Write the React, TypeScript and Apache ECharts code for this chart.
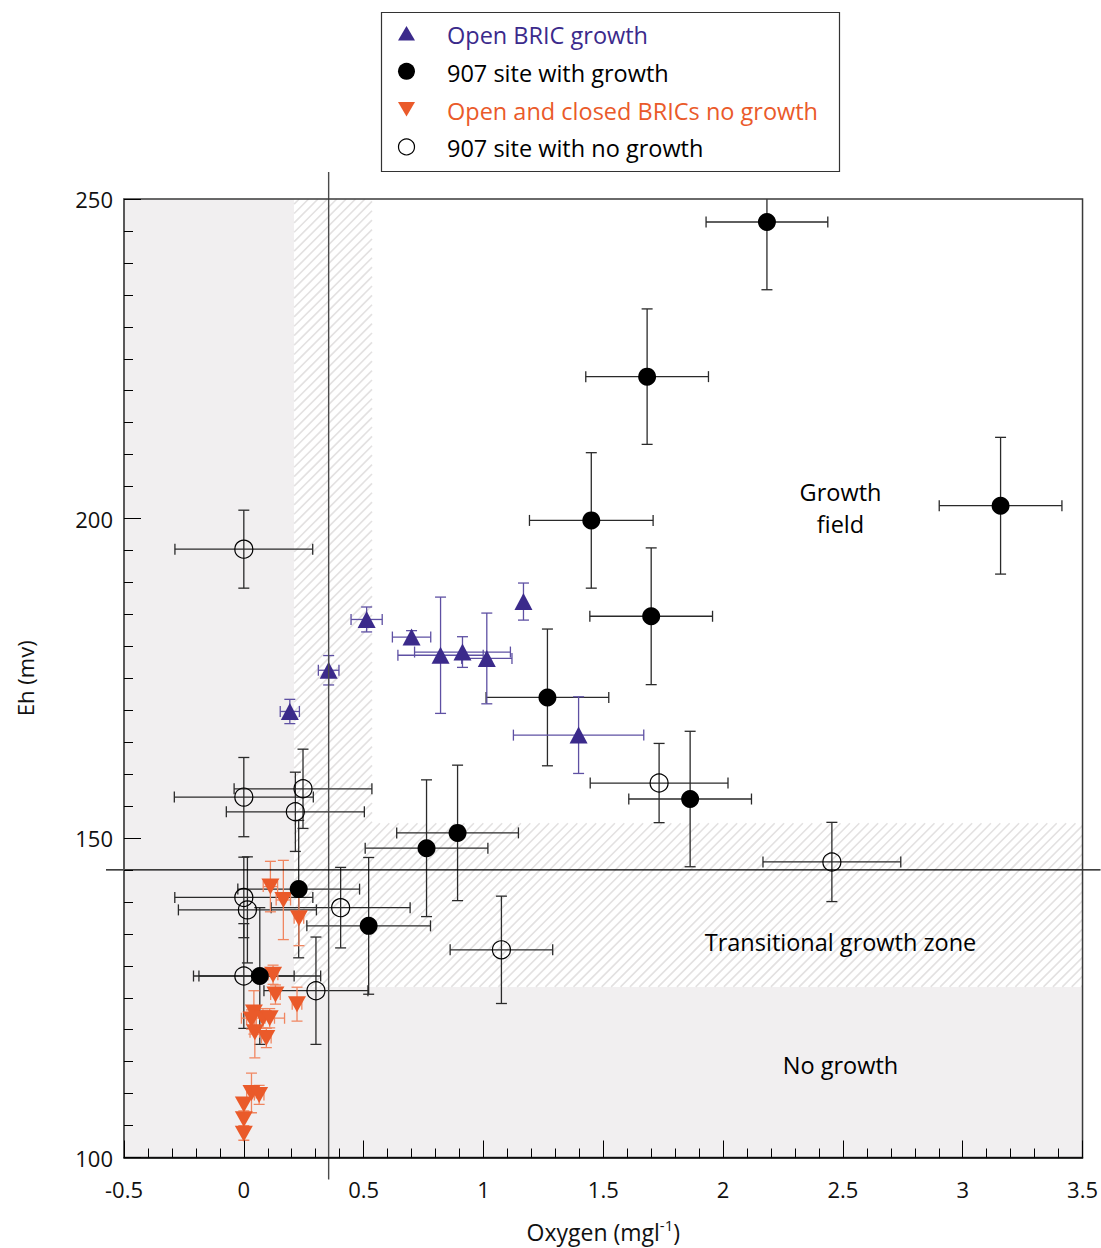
import React, { useEffect, useRef } from 'react';
import * as echarts from 'echarts';

// ---------------- data ----------------
const xMin = -0.5;
const xMax = 3.5;
const xInterval = 0.5;
const yMin = 100;
const yMax = 250;
const yInterval = 50;

// [oxygen, Eh, oxygen error, Eh error]
const openBricGrowth = [
  [0.192, 169.8, 0.04, 1.9],
  [0.354, 176.25, 0.043, 2.3],
  [0.5125, 184.2, 0.065, 1.95],
  [0.7, 181.45, 0.08, 1.0],
  [0.821, 178.6, 0.178, 9.1],
  [0.9125, 179.1, 0.2, 2.4],
  [1.014, 178.1, 0.105, 7.1],
  [1.167, 187.0, 0, 2.9],
  [1.397, 166.1, 0.272, 6.0],
];

const site907Growth = [
  [2.183, 246.4, 0.254, 10.6],
  [1.683, 222.2, 0.256, 10.6],
  [1.45, 199.7, 0.258, 10.6],
  [3.158, 202.0, 0.256, 10.7],
  [1.7, 184.7, 0.256, 10.7],
  [1.267, 172.0, 0.256, 10.7],
  [1.8625, 156.1, 0.256, 10.6],
  [0.892, 150.8, 0.254, 10.6],
  [0.7625, 148.4, 0.256, 10.7],
  [0.521, 136.25, 0.258, 10.7],
  [0.229, 142.0, 0.254, 10.75],
  [0.0667, 128.4, 0.254, 10.7],
];

const bricNoGrowth = [
  [0.111, 142.4, 0.03, 3.95],
  [0.165, 140.3, 0.03, 6.2],
  [0.23, 137.45, 0.02, 4.3],
  [0.122, 128.6, 0.02, 1.5],
  [0.132, 125.5, 0.02, 1.5],
  [0.222, 124.0, 0.02, 2.65],
  [0.042, 122.7, 0.02, 3.4],
  [0.08, 121.8, 0.09, 1.5],
  [0.108, 121.8, 0.02, 1.5],
  [0.032, 121.6, 0.02, 1.5],
  [0.046, 119.6, 0.02, 4.0],
  [0.094, 118.7, 0.02, 1.5],
  [0.032, 110.1, 0.02, 3.1],
  [0.064, 109.8, 0.02, 1.5],
  [0.0, 108.3, 0, 1],
  [0.0, 106.0, 0, 1],
  [0.0, 103.7, 0, 1],
];

const site907NoGrowth = [
  [0.0, 195.2, 0.2875, 6.1],
  [0.0, 156.4, 0.29, 6.2],
  [0.247, 157.7, 0.2875, 6.2],
  [0.215, 154.1, 0.288, 6.2],
  [0.0, 140.7, 0.288, 6.3],
  [0.015, 138.75, 0.288, 8.3],
  [0.0, 128.4, 0.21, 8.2],
  [0.301, 126.1, 0.217, 8.4],
  [0.404, 139.1, 0.29, 6.3],
  [1.075, 132.5, 0.214, 8.4],
  [1.733, 158.6, 0.2875, 6.2],
  [2.454, 146.25, 0.2875, 6.2],
];

// zones: [x0, y0, x1, y1]
const noGrowthZones = [
  [-0.5, 100, 0.21, 250],
  [-0.5, 100, 3.5, 126.7],
];
const transitionalZones = [
  [0.21, 126.7, 0.535, 250],
  [0.535, 126.7, 3.5, 152.3],
];
const referenceLines = [[0.354, 145]];

const zoneLabels = ['Growth\nfield', 'Transitional growth zone', 'No growth'];
const zoneLabelX = [2.49, 2.49, 2.49];
const zoneLabelY = [201.6, 133.75, 114.5];

const legendLabels = [
  'Open BRIC growth',
  '907 site with growth',
  'Open and closed BRICs no growth',
  '907 site with no growth',
];

// ---------------- styles ----------------
const FONT = '"Open Sans", "Noto Sans", sans-serif';
const PURPLE = '#3b2a8b';
const PURPLE_BAR = '#5e50a3';
const ORANGE = '#ea5a2a';
const ORANGE_BAR = '#f08660';
const BLACK = '#000000';
const BLACK_BAR = '#2a2a2a';
const GRAY_FILL = '#f1eff0';
const HATCH = '#e3e1e1';

function errorBarRenderer(color: string, cap: number, lw: number) {
  return (params: any, api: any) => {
    const x = api.value(0);
    const y = api.value(1);
    const ex = api.value(2);
    const ey = api.value(3);
    const style = { stroke: color, lineWidth: lw, fill: null };
    const children: any[] = [];
    if (ex > 0) {
      const l = api.coord([x - ex, y]);
      const r = api.coord([x + ex, y]);
      children.push({ type: 'line', shape: { x1: l[0], y1: l[1], x2: r[0], y2: r[1] }, style });
      children.push({ type: 'line', shape: { x1: l[0], y1: l[1] - cap, x2: l[0], y2: l[1] + cap }, style });
      children.push({ type: 'line', shape: { x1: r[0], y1: r[1] - cap, x2: r[0], y2: r[1] + cap }, style });
    }
    if (ey > 0) {
      const t = api.coord([x, y + ey]);
      const b = api.coord([x, y - ey]);
      children.push({ type: 'line', shape: { x1: t[0], y1: t[1], x2: b[0], y2: b[1] }, style });
      children.push({ type: 'line', shape: { x1: t[0] - cap, y1: t[1], x2: t[0] + cap, y2: t[1] }, style });
      children.push({ type: 'line', shape: { x1: b[0] - cap, y1: b[1], x2: b[0] + cap, y2: b[1] }, style });
    }
    return { type: 'group', children };
  };
}

function fillRenderer(params: any, api: any) {
  const a = api.coord([api.value(0), api.value(3)]);
  const b = api.coord([api.value(2), api.value(1)]);
  return {
    type: 'rect',
    shape: { x: a[0], y: a[1], width: b[0] - a[0], height: b[1] - a[1] },
    style: { fill: GRAY_FILL },
  };
}

function hatchRenderer(params: any, api: any) {
  const a = api.coord([api.value(0), api.value(3)]);
  const b = api.coord([api.value(2), api.value(1)]);
  const x0 = a[0], y0 = a[1], x1 = b[0], y1 = b[1];
  const s = 9.4;
  const children: any[] = [
    { type: 'rect', shape: { x: x0, y: y0, width: x1 - x0, height: y1 - y0 }, style: { fill: '#ffffff' } },
  ];
  const start = Math.ceil((x0 + y0) / s) * s;
  for (let c = start; c <= x1 + y1; c += s) {
    const xa = Math.max(x0, c - y1);
    const xb = Math.min(x1, c - y0);
    if (xb > xa) {
      children.push({
        type: 'line',
        shape: { x1: xa, y1: c - xa, x2: xb, y2: c - xb },
        style: { stroke: HATCH, lineWidth: 1.6 },
      });
    }
  }
  return { type: 'group', children };
}

function refLineRenderer(params: any, api: any) {
  const p = api.coord([api.value(0), api.value(1)]);
  const cs = params.coordSys;
  return {
    type: 'group',
    children: [
      {
        type: 'line',
        shape: { x1: p[0], y1: cs.y - 27, x2: p[0], y2: cs.y + cs.height + 22 },
        style: { stroke: '#4a4a4a', lineWidth: 1.4 },
      },
      {
        type: 'line',
        shape: { x1: cs.x - 18, y1: p[1], x2: cs.x + cs.width + 18, y2: p[1] },
        style: { stroke: '#000', lineWidth: 1.3 },
      },
    ],
  };
}

function labelRenderer(params: any, api: any) {
  const p = api.coord([api.value(0), api.value(1)]);
  return {
    type: 'text',
    x: p[0],
    y: p[1],
    style: {
      text: zoneLabels[params.dataIndex],
      fill: '#000',
      fontSize: 23.5,
      fontFamily: FONT,
      lineHeight: 32,
      align: 'center',
      verticalAlign: 'middle',
    },
  };
}

function buildLegend() {
  const left = 381.5;
  const top = 12.5;
  const symX = 406.5;
  const textX = 447;
  const rowY0 = 35;
  const step = 37.8;
  const colors = [PURPLE, BLACK, ORANGE, BLACK];
  const els: any[] = [
    {
      type: 'rect',
      shape: { x: left, y: top, width: 458, height: 159 },
      style: { fill: '#fff', stroke: '#333', lineWidth: 1.2 },
      z: 20,
    },
  ];
  legendLabels.forEach((label, i) => {
    const cy = rowY0 + i * step;
    const sy = cy - 1.5;
    if (i === 0) {
      els.push({
        type: 'polygon',
        shape: { points: [[symX - 8.5, sy + 7], [symX + 8.5, sy + 7], [symX, sy - 7.5]] },
        style: { fill: PURPLE },
        z: 21,
      });
    } else if (i === 1) {
      els.push({ type: 'circle', shape: { cx: symX, cy: sy, r: 8.5 }, style: { fill: BLACK }, z: 21 });
    } else if (i === 2) {
      els.push({
        type: 'polygon',
        shape: { points: [[symX - 8.5, sy - 7], [symX + 8.5, sy - 7], [symX, sy + 7.5]] },
        style: { fill: ORANGE },
        z: 21,
      });
    } else {
      els.push({
        type: 'circle',
        shape: { cx: symX, cy: sy, r: 8 },
        style: { fill: '#fff', stroke: BLACK, lineWidth: 1.2 },
        z: 21,
      });
    }
    els.push({
      type: 'text',
      x: textX,
      y: cy,
      style: {
        text: label,
        fill: colors[i],
        fontSize: 23.5,
        fontFamily: FONT,
        align: 'left',
        verticalAlign: 'middle',
      },
      z: 21,
    });
  });
  return els;
}

function buildOption() {
  const xy = (arr: number[][]) => arr.map((d) => [d[0], d[1]]);
  return {
    animation: false,
    backgroundColor: '#ffffff',
    grid: {
      left: 124,
      right: 17,
      top: 199,
      bottom: 90,
      show: true,
      borderColor: '#3a3a3a',
      borderWidth: 1.5,
      backgroundColor: 'transparent',
      z: 6,
    },
    xAxis: {
      type: 'value',
      min: xMin,
      max: xMax,
      interval: xInterval,
      z: 6,
      axisLine: { show: true, onZero: false, lineStyle: { color: '#000', width: 1.5 } },
      axisTick: { show: true, inside: true, length: 17, lineStyle: { color: '#000', width: 1 } },
      minorTick: { show: true, splitNumber: 5, length: 9, lineStyle: { color: '#000', width: 1 } },
      splitLine: { show: false },
      axisLabel: { fontSize: 22, fontFamily: FONT, color: '#111', margin: 20 },
      name: '{a|Oxygen (mgl}{b|-1}{a|)}',
      nameLocation: 'middle',
      nameGap: 60,
      nameTextStyle: {
        rich: {
          a: { fontSize: 23, fontFamily: FONT, color: '#111', lineHeight: 28 },
          b: { fontSize: 15, fontFamily: FONT, color: '#111', lineHeight: 16, verticalAlign: 'top' },
        },
      },
    },
    yAxis: {
      type: 'value',
      min: yMin,
      max: yMax,
      interval: yInterval,
      z: 6,
      axisLine: { show: true, onZero: false, lineStyle: { color: '#555', width: 1.5 } },
      axisTick: { show: true, inside: true, length: 17, lineStyle: { color: '#000', width: 1 } },
      minorTick: { show: true, splitNumber: 10, length: 9, lineStyle: { color: '#000', width: 1 } },
      splitLine: { show: false },
      axisLabel: { fontSize: 22, fontFamily: FONT, color: '#111', margin: 11 },
      name: 'Eh (mv)',
      nameLocation: 'middle',
      nameGap: 88,
      nameRotate: 90,
      nameTextStyle: { fontSize: 22, fontFamily: FONT, color: '#111' },
    },
    graphic: buildLegend(),
    series: [
      {
        type: 'custom',
        name: 'No growth zone',
        data: noGrowthZones,
        renderItem: fillRenderer,
        z: 0,
        silent: true,
        clip: true,
      },
      {
        type: 'custom',
        name: 'Transitional growth zone',
        data: transitionalZones,
        renderItem: hatchRenderer,
        z: 0,
        silent: true,
        clip: true,
      },
      {
        type: 'custom',
        name: 'Zone labels',
        data: zoneLabelX.map((x, i) => [x, zoneLabelY[i]]),
        renderItem: labelRenderer,
        z: 1,
        silent: true,
      },
      {
        type: 'custom',
        name: 'Reference lines',
        data: referenceLines,
        renderItem: refLineRenderer,
        z: 5,
        silent: true,
        clip: false,
      },
      {
        type: 'custom',
        name: 'err1',
        data: site907Growth,
        renderItem: errorBarRenderer(BLACK_BAR, 5.5, 1.3),
        z: 2,
        silent: true,
        clip: true,
      },
      {
        type: 'custom',
        name: 'err2',
        data: site907NoGrowth,
        renderItem: errorBarRenderer(BLACK_BAR, 5.5, 1.3),
        z: 2,
        silent: true,
        clip: true,
      },
      {
        type: 'custom',
        name: 'err3',
        data: openBricGrowth,
        renderItem: errorBarRenderer(PURPLE_BAR, 5.5, 1.3),
        z: 2,
        silent: true,
        clip: true,
      },
      {
        type: 'custom',
        name: 'err4',
        data: bricNoGrowth,
        renderItem: errorBarRenderer(ORANGE_BAR, 5.5, 1.3),
        z: 2,
        silent: true,
        clip: true,
      },
      {
        type: 'scatter',
        name: legendLabels[2],
        data: xy(bricNoGrowth),
        symbol: 'triangle',
        symbolRotate: 180,
        symbolSize: [18, 16],
        itemStyle: { color: ORANGE, opacity: 1 },
        z: 3,
      },
      {
        type: 'scatter',
        name: legendLabels[0],
        data: xy(openBricGrowth),
        symbol: 'triangle',
        symbolSize: [18, 17],
        itemStyle: { color: PURPLE, opacity: 1 },
        z: 3,
      },
      {
        type: 'scatter',
        name: legendLabels[3],
        data: xy(site907NoGrowth),
        symbol: 'circle',
        symbolSize: 18,
        itemStyle: { color: 'rgba(0,0,0,0)', borderColor: '#000', borderWidth: 1.2, opacity: 1 },
        z: 3,
      },
      {
        type: 'scatter',
        name: legendLabels[1],
        data: xy(site907Growth),
        symbol: 'circle',
        symbolSize: 18,
        itemStyle: { color: BLACK, opacity: 1 },
        z: 3,
      },
    ],
  };
}

export default function App() {
  const ref = useRef<HTMLDivElement>(null);
  useEffect(() => {
    document.body.style.margin = '0';
    const chart = echarts.init(ref.current as HTMLDivElement, null, { renderer: 'svg' });
    chart.setOption(buildOption() as any);
    return () => {
      chart.dispose();
    };
  }, []);
  return <div ref={ref} style={{ width: 1101, height: 1248 }} />;
}
